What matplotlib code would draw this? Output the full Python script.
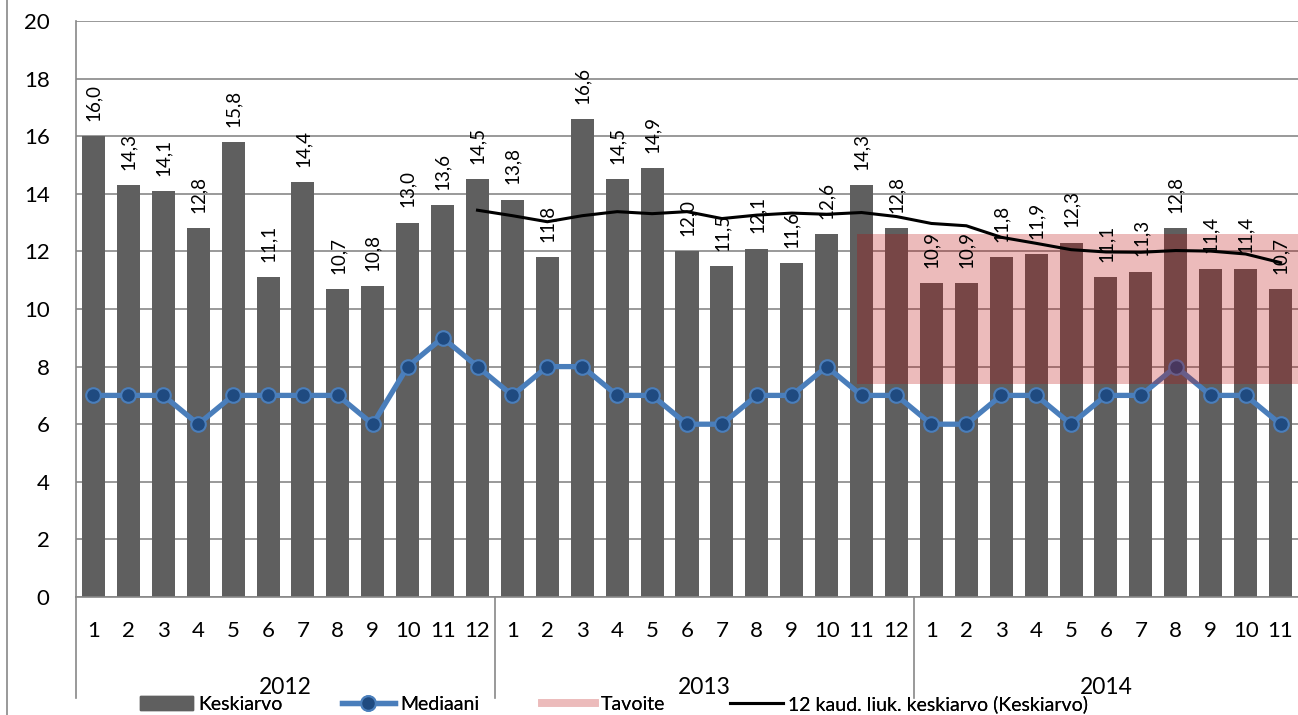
import matplotlib
matplotlib.use('Agg')
import matplotlib.pyplot as plt
import matplotlib.transforms as mtransforms
from matplotlib.lines import Line2D
from matplotlib.patches import Patch
import numpy as np

plt.rcParams['font.family'] = ['Lato', 'DejaVu Sans']

years = ['2012', '2013', '2014']
year_lengths = [12, 12, 11]
months = [str(m) for m in range(1, 13)] * 2 + [str(m) for m in range(1, 12)]

keskiarvo = [16.0, 14.3, 14.1, 12.8, 15.8, 11.1, 14.4, 10.7, 10.8, 13.0, 13.6, 14.5,
             13.8, 11.8, 16.6, 14.5, 14.9, 12.0, 11.5, 12.1, 11.6, 12.6, 14.3, 12.8,
             10.9, 10.9, 11.8, 11.9, 12.3, 11.1, 11.3, 12.8, 11.4, 11.4, 10.7]
mediaani = [7, 7, 7, 6, 7, 7, 7, 7, 6, 8, 9, 8,
            7, 8, 8, 7, 7, 6, 6, 7, 7, 8, 7, 7,
            6, 6, 7, 7, 6, 7, 7, 8, 7, 7, 6]
nan = float('nan')
liukuva = [nan] * 11 + [13.43,
           13.24, 13.03, 13.24, 13.38, 13.31, 13.38, 13.14, 13.26, 13.33, 13.29, 13.35, 13.21,
           12.97, 12.89, 12.49, 12.28, 12.06, 11.98, 11.97, 12.03, 12.01, 11.91, 11.61]
tavoite_low = 7.4
tavoite_high = 12.6
tavoite_start = 21.88

W, H = 1298, 715
fig = plt.figure(figsize=(W / 100, H / 100), dpi=100)
ax = fig.add_axes([76 / W, 118 / H, 1222 / W, 576 / H])

n = len(keskiarvo)
x = np.arange(n)
grid_c = '#878787'
bar_c = '#5f5f5f'
med_c = '#4A7EBB'
med_fill = '#1F4A80'
band_c = (0.725, 0.016, 0.016)
band_legend_c = '#ECBBBB'

ax.bar(x, keskiarvo, width=0.66, color=bar_c, zorder=2)
ax.plot(x, mediaani, color=med_c, lw=3.8, marker='o', ms=10.5,
        mfc=med_fill, mec=med_c, mew=1.5, zorder=3, solid_joinstyle='round')
ax.fill_between([tavoite_start, n - 0.5], tavoite_low, tavoite_high,
                color=band_c, alpha=0.27, lw=0, zorder=4)
ax.plot(x, liukuva, color='black', lw=2.2, zorder=5)

for xi, v in zip(x, keskiarvo):
    ax.annotate(f"{v:.1f}".replace('.', ','), (xi, v), xytext=(0, 11),
                textcoords='offset points', rotation=90, ha='center', va='bottom',
                fontsize=13.5, zorder=6)

ax.set_xlim(-0.5, n - 0.5)
ax.set_ylim(0, 20)
ax.set_yticks(range(0, 21, 2))
ax.grid(axis='y', color=grid_c, lw=1.2, zorder=0)
ax.set_axisbelow(True)
for s in ['top', 'right']:
    ax.spines[s].set_visible(False)
for s in ['left', 'bottom']:
    ax.spines[s].set_color(grid_c)
    ax.spines[s].set_linewidth(1.2)

ax.set_xticks(x, months)
ax.tick_params(axis='x', length=0, pad=17, labelsize=16)
ax.tick_params(axis='y', length=0, pad=19, labelsize=16)

trans = mtransforms.blended_transform_factory(ax.transData, ax.transAxes)
start = 0
for yr, ln in zip(years, year_lengths):
    ax.plot([start - 0.5, start - 0.5], [0, -0.175], transform=trans, clip_on=False,
            color=grid_c, lw=1.2)
    ax.text(start + (ln - 1) / 2, -0.157, yr, transform=trans, ha='center', va='center',
            fontsize=16.5)
    start += ln

fig.add_artist(Line2D([7 / W, 7 / W], [0, 1], color=grid_c, lw=1.2))

handles = [Patch(color=bar_c),
           Line2D([], [], color=med_c, lw=3.8, marker='o', ms=10.5,
                  mfc=med_fill, mec=med_c, mew=1.5),
           Line2D([], [], color=band_legend_c, lw=5.5),
           Line2D([], [], color='black', lw=2.2)]
labels = ['Keskiarvo', 'Mediaani', 'Tavoite', '12 kaud. liuk. keskiarvo (Keskiarvo)']
lefts = [140, 342, 542, 730]
for h, lab, lx in zip(handles, labels, lefts):
    leg = fig.legend([h], [lab], loc='center left', bbox_to_anchor=(lx / W, 11 / H),
                     frameon=False, fontsize=14, handlelength=2.7,
                     handletextpad=0.3, borderpad=0, borderaxespad=0)
    fig.add_artist(leg)

fig.savefig('out.png', dpi=100)
